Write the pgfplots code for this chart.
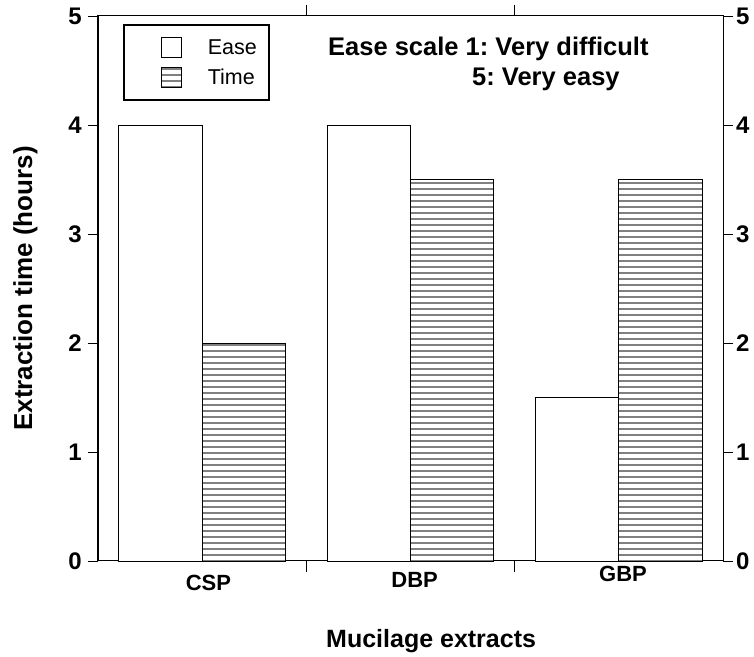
\documentclass[border=0pt]{standalone}
\usepackage{fontspec}
\setmainfont{Liberation Sans}
\usepackage{pgfplots}
\pgfplotsset{compat=1.18}
\usetikzlibrary{patterns.meta}
\frenchspacing
\begin{document}
\begin{tikzpicture}
\pgfplotsset{
  common/.style={
    scale only axis, width=625pt, height=545pt,
    ymin=0, ymax=5,
    axis line style={-, black, line width=1pt},
    every tick/.style={black, line width=0.8pt},
    /pgf/number format/assume math mode=true,
  }
}
\begin{axis}[common, name=main,
  xmin=-0.5, xmax=2.5,
  ytick=\empty,
  xtick={0.5,1.5}, xticklabels={}, xtick pos=both, tick align=inside,
  major tick length=11pt,
  extra x ticks={0.03,1.02,2.02},
  extra x tick labels={CSP,\raisebox{3pt}[\height][\depth]{DBP},\raisebox{9pt}[\height][\depth]{GBP}},
  extra x tick style={major tick length=0pt,
     xticklabel style={yshift=-10.5pt, font=\fontsize{22}{26}\selectfont\bfseries}},
  ybar, bar width=0.4, bar shift=0pt,
  clip=false,
  ylabel={Extraction time (hours)},
  ylabel style={at={(rel axis cs:0,0.5)}, anchor=center, yshift=72.5pt,
     font=\fontsize{26}{30}\selectfont\bfseries},
  xlabel={Mucilage extracts},
  xlabel style={at={(rel axis cs:0.533,0)}, anchor=base, yshift=-87pt,
     font=\fontsize{25}{30}\selectfont\bfseries},
  legend style={at={(0.0416,0.9835)}, anchor=north west, draw=black, line width=2pt,
     fill=white, inner xsep=12pt, inner ysep=12pt, row sep=9pt, outer sep=0pt,
     font=\fontsize{21.5}{26}\selectfont, nodes={inner sep=0pt}},
  legend cell align=left,
  legend image code/.code={%
     \path (-25pt,0pt) (46pt,0pt);
     \draw[#1, line width=0.8pt] (0pt,-10pt) rectangle (20pt,10pt);},
]
\addplot[draw=black, fill=white, line width=0.8pt] coordinates {(-0.2,4) (0.8,4) (1.8,1.5)};
\addplot[draw=black, line width=0.8pt, pattern={Lines[angle=0,distance=6pt,line width=2pt]}, pattern color=gray] coordinates {(0.2,2) (1.2,3.5) (2.2,3.5)};
\legend{Ease,Time}
\node[anchor=base west, inner sep=0pt, font=\fontsize{25.5}{30}\selectfont\bfseries] at (rel axis cs:0.368,0.9284) {Ease scale 1: Very difficult};
\node[anchor=base west, inner sep=0pt, font=\fontsize{25.5}{30}\selectfont\bfseries] at (rel axis cs:0.5984,0.8716) {5: Very easy};
\end{axis}
\begin{axis}[common, xmin=0, xmax=1, hide x axis,
  ytick={0,1,2,3,4,5}, ytick pos=left, yticklabel pos=left, tick align=outside,
  major tick length=10pt,
  yticklabel style={font=\fontsize{24}{28}\selectfont\bfseries, inner xsep=6pt}]
\end{axis}
\begin{axis}[common, xmin=0, xmax=1, hide x axis,
  ytick={0,1,2,3,4,5}, ytick pos=right, yticklabel pos=right, tick align=outside,
  major tick length=10pt,
  yticklabel style={font=\fontsize{24}{28}\selectfont\bfseries, inner xsep=3pt}]
\end{axis}
\pgfresetboundingbox
\useasboundingbox ([shift={(-98pt,-96pt)}]main.south west) rectangle ([shift={(31pt,16pt)}]main.north east);
\end{tikzpicture}
\end{document}
